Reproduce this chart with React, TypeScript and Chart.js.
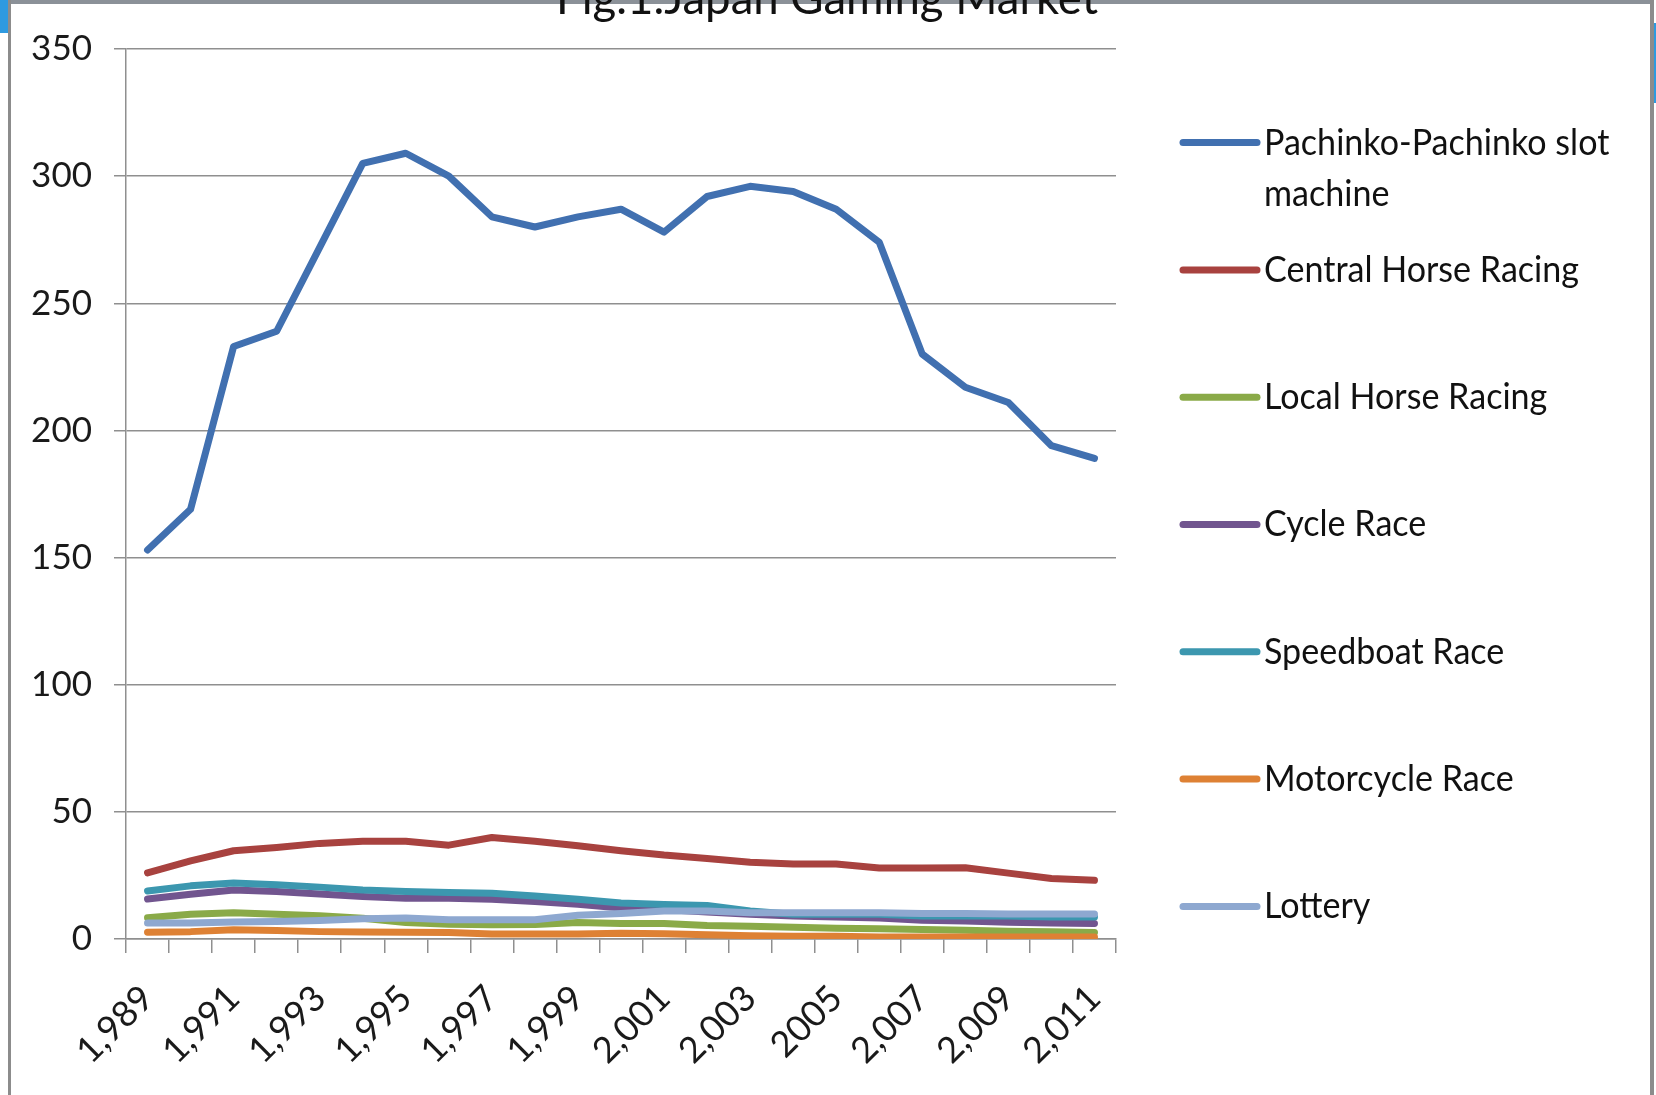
import React, { useEffect, useRef } from "react";
import { Chart, registerables } from "chart.js";

Chart.register(...registerables);

const years = [
  "1,989", "1,990", "1,991", "1,992", "1,993", "1,994", "1,995", "1,996",
  "1,997", "1,998", "1,999", "2,000", "2,001", "2,002", "2,003", "2,004",
  "2005", "2,006", "2,007", "2,008", "2,009", "2,010", "2,011",
];

const pachinko = [153, 169, 233, 239, 272, 305, 309, 300, 284, 280, 284, 287, 278, 292, 296, 294, 287, 274, 230, 217, 211, 194, 189];
const centralHorse = [26, 30.7, 34.7, 36, 37.6, 38.4, 38.4, 36.9, 39.9, 38.4, 36.7, 34.7, 33, 31.7, 30.2, 29.5, 29.5, 27.9, 27.9, 28, 25.9, 23.8, 23.1];
const localHorse = [8.4, 9.7, 10.3, 9.7, 9.1, 8.2, 6.5, 5.8, 5.6, 5.7, 6.5, 6.1, 6.1, 5.3, 5.0, 4.6, 4.2, 4.0, 3.7, 3.4, 3.0, 2.9, 2.6];
const cycleRace = [15.7, 17.6, 19.3, 18.7, 17.7, 16.7, 16, 16, 15.6, 14.7, 13.7, 12.2, 11.6, 10.6, 9.7, 9, 8.7, 8.3, 7.4, 7.1, 6.6, 6.3, 6.1];
const speedboat = [18.9, 20.9, 22, 21.3, 20.4, 19.3, 18.7, 18.3, 18, 16.9, 15.6, 14.2, 13.6, 13.2, 11, 9.7, 9.7, 9.7, 9, 9, 9, 8.7, 8.7];
const motorcycle = [2.7, 2.9, 3.6, 3.3, 2.9, 2.8, 2.7, 2.6, 2, 2, 2, 2.3, 2.1, 1.7, 1.3, 1.1, 1.1, 0.8, 0.8, 0.8, 0.8, 0.8, 0.8];
const lottery = [6.3, 6.3, 6.7, 6.9, 7.3, 8.0, 8.3, 7.6, 7.6, 7.6, 9.3, 10.0, 11, 11, 10.3, 10.3, 10.3, 10.3, 10, 10, 9.8, 9.8, 9.8];

const seriesNames = [
  "Pachinko-Pachinko slot machine",
  "Central Horse Racing",
  "Local Horse Racing",
  "Cycle Race",
  "Speedboat Race",
  "Motorcycle Race",
  "Lottery",
];
const seriesValues = [pachinko, centralHorse, localHorse, cycleRace, speedboat, motorcycle, lottery];
const seriesColors = ["#4170B0", "#A8423F", "#8AAA48", "#71558F", "#3C97AF", "#DE8134", "#8EA8D0"];

const titleText = "Fig.1.Japan Gaming Market";
const FONT = "Lato, 'Open Sans', sans-serif";
const GRID = "#8f8f8f";

const framePlugin = {
  id: "frame",
  beforeDraw(chart: any) {
    const ctx = chart.ctx;
    ctx.save();
    ctx.fillStyle = "#ffffff";
    ctx.fillRect(0, 0, chart.width, chart.height);
    ctx.restore();
  },
  afterDraw(chart: any) {
    const ctx = chart.ctx;
    const W = chart.width;
    const H = chart.height;
    ctx.save();
    // slide frame
    ctx.fillStyle = "#2e9ae0";
    ctx.fillRect(0, 0, 8, 33);
    ctx.fillRect(W - 2, 23, 2, 80);
    ctx.fillStyle = "#8b9198";
    ctx.fillRect(8, 0, W - 10, 4);
    ctx.fillStyle = "#8c8c8c";
    ctx.fillRect(8, 0, 3, H);
    ctx.fillRect(W - 6, 0, 4, H);

    // title (clipped at top)
    ctx.fillStyle = "#111";
    ctx.font = `46px ${FONT}`;
    ctx.textAlign = "center";
    ctx.textBaseline = "alphabetic";
    ctx.fillText(titleText, 827, 14, 542);

    // legend
    ctx.font = `37px ${FONT}`;
    ctx.textAlign = "left";
    ctx.textBaseline = "middle";
    const sx = Math.min(1, 315 / ctx.measureText("Central Horse Racing").width);
    const lineX0 = 1183;
    const lineX1 = 1257;
    const textX = 1264;
    const y0 = 142.6;
    const step = 127.3;
    const maxW = 370;
    chart.data.datasets.forEach((ds: any, i: number) => {
      const y = y0 + i * step;
      ctx.strokeStyle = ds.borderColor;
      ctx.lineWidth = 7;
      ctx.lineCap = "round";
      ctx.beginPath();
      ctx.moveTo(lineX0, y);
      ctx.lineTo(lineX1, y);
      ctx.stroke();
      // wrap
      const words = String(ds.label).split(" ");
      const lines: string[] = [];
      let cur = "";
      words.forEach((w) => {
        const test = cur ? cur + " " + w : w;
        if (ctx.measureText(test).width * sx > maxW && cur) {
          lines.push(cur);
          cur = w;
        } else cur = test;
      });
      if (cur) lines.push(cur);
      ctx.fillStyle = "#111";
      lines.forEach((ln, k) => {
        ctx.save();
        ctx.translate(textX, y + k * 51);
        ctx.scale(sx, 1);
        ctx.fillText(ln, 0, 0);
        ctx.restore();
      });
    });
    ctx.restore();
  },
};

export default function App() {
  const ref = useRef<HTMLCanvasElement | null>(null);
  useEffect(() => {
    document.body.style.margin = "0";
    if (!ref.current) return;
    const chart = new Chart(ref.current, {
      type: "line",
      data: {
        labels: years,
        datasets: seriesNames.map((name, i) => ({
          label: name,
          data: seriesValues[i],
          borderColor: seriesColors[i],
          backgroundColor: seriesColors[i],
          borderWidth: 7,
          pointRadius: 0,
          tension: 0,
          fill: false,
          order: -i,
          borderCapStyle: "round",
          borderJoinStyle: "round",
        })),
      },
      options: {
        responsive: false,
        animation: false,
        devicePixelRatio: 1,
        layout: { padding: { top: 49, right: 540, left: 0, bottom: 0 } },
        plugins: {
          legend: { display: false },
          title: { display: false },
          tooltip: { enabled: false },
        },
        scales: {
          x: {
            offset: true,
            grid: {
              offset: true,
              drawOnChartArea: false,
              drawTicks: true,
              tickLength: 14,
              color: GRID,
              lineWidth: 1.5,
            },
            border: { display: true, color: GRID, width: 1.5 },
            ticks: {
              autoSkip: false,
              maxRotation: 45,
              minRotation: 45,
              padding: 24,
              color: "#1a1a1a",
              font: { family: FONT, size: 36 },
              callback: (_v: any, i: number) => (i % 2 === 0 ? years[i] : ""),
            },
            afterFit: (s: any) => {
              s.height = 156;
            },
          },
          y: {
            min: 0,
            max: 350,
            ticks: {
              stepSize: 50,
              padding: 22,
              color: "#1a1a1a",
              font: { family: FONT, size: 35 },
            },
            grid: { color: GRID, lineWidth: 1.5, tickLength: 12, drawTicks: true },
            border: { display: true, color: GRID, width: 1.5 },
            afterFit: (s: any) => {
              s.width = 126;
            },
          },
        },
      },
      plugins: [framePlugin],
    } as any);
    return () => chart.destroy();
  }, []);
  return (
    <div style={{ width: 1656, height: 1095, position: "relative" }}>
      <canvas ref={ref} width={1656} height={1095} style={{ display: "block" }} />
    </div>
  );
}
